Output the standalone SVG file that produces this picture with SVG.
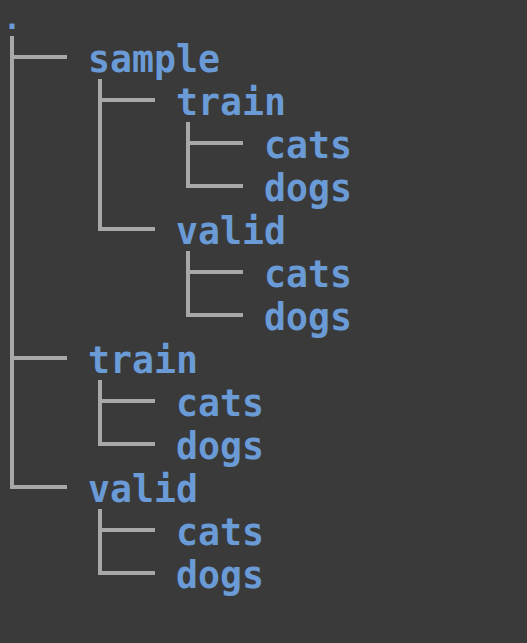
<svg xmlns="http://www.w3.org/2000/svg" width="527" height="643" viewBox="0 0 527 643">
  <style>
    .bg { fill: #3a3a3a; }
    .edge { fill: none; stroke: #a8a8a8; stroke-width: 4; stroke-linejoin: miter; stroke-linecap: butt; }
    .label { font-family: "DejaVu Sans Mono", "Liberation Mono", monospace; font-weight: bold; font-size: 36.5px; fill: #6a9bd6; }
    .root { font-family: "DejaVu Sans Mono", "Liberation Mono", monospace; font-weight: bold; font-size: 30px; fill: #6a9bd6; }
  </style>
  <rect class="bg" x="0" y="0" width="527" height="643"/>

  <!-- tree connectors: vertical trunks with branch stubs -->
  <g id="connectors">
    <!-- root trunk -->
    <path class="edge" d="M12 36 V487 H67"/>
    <path class="edge" d="M12 57 H67"/>
    <path class="edge" d="M12 358 H67"/>
    <!-- sample -->
    <path class="edge" d="M100 79 V229 H155"/>
    <path class="edge" d="M100 100 H155"/>
    <!-- sample/train -->
    <path class="edge" d="M188 122 V186 H243"/>
    <path class="edge" d="M188 143 H243"/>
    <!-- sample/valid -->
    <path class="edge" d="M188 251 V315 H243"/>
    <path class="edge" d="M188 272 H243"/>
    <!-- train -->
    <path class="edge" d="M100 380 V444 H155"/>
    <path class="edge" d="M100 401 H155"/>
    <!-- valid -->
    <path class="edge" d="M100 509 V573 H155"/>
    <path class="edge" d="M100 530 H155"/>
  </g>

  <g id="root"><text class="root" x="12" y="29" text-anchor="middle">.</text></g>
  <g id="sample"><text class="label" x="88" y="72" textLength="132" lengthAdjust="spacing">sample</text></g>
  <g id="sample-train"><text class="label" x="176" y="115" textLength="110" lengthAdjust="spacing">train</text></g>
  <g id="sample-train-cats"><text class="label" x="264" y="158" textLength="88" lengthAdjust="spacing">cats</text></g>
  <g id="sample-train-dogs"><text class="label" x="264" y="201" textLength="88" lengthAdjust="spacing">dogs</text></g>
  <g id="sample-valid"><text class="label" x="176" y="244" textLength="110" lengthAdjust="spacing">valid</text></g>
  <g id="sample-valid-cats"><text class="label" x="264" y="287" textLength="88" lengthAdjust="spacing">cats</text></g>
  <g id="sample-valid-dogs"><text class="label" x="264" y="330" textLength="88" lengthAdjust="spacing">dogs</text></g>
  <g id="train"><text class="label" x="88" y="373" textLength="110" lengthAdjust="spacing">train</text></g>
  <g id="train-cats"><text class="label" x="176" y="416" textLength="88" lengthAdjust="spacing">cats</text></g>
  <g id="train-dogs"><text class="label" x="176" y="459" textLength="88" lengthAdjust="spacing">dogs</text></g>
  <g id="valid"><text class="label" x="88" y="502" textLength="110" lengthAdjust="spacing">valid</text></g>
  <g id="valid-cats"><text class="label" x="176" y="545" textLength="88" lengthAdjust="spacing">cats</text></g>
  <g id="valid-dogs"><text class="label" x="176" y="588" textLength="88" lengthAdjust="spacing">dogs</text></g>
</svg>
